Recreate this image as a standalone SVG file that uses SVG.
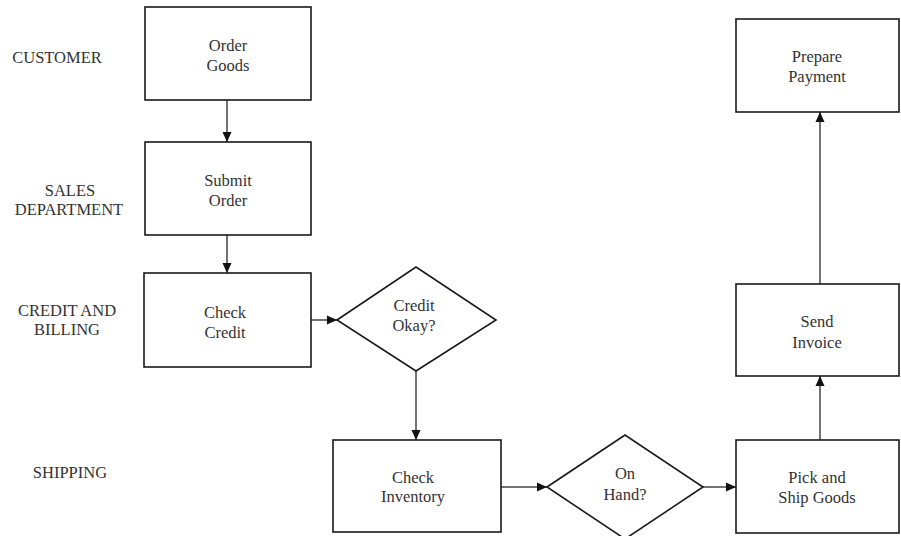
<svg xmlns="http://www.w3.org/2000/svg" width="901" height="536" viewBox="0 0 901 536">
<style>
  .box { fill: #ffffff; stroke: #1a1a1a; stroke-width: 1.6; }
  .txt { font-family: "Liberation Serif", "Times New Roman", serif; font-size: 16.5px; fill: #333333; text-anchor: middle; }
  .lane { font-family: "Liberation Serif", "Times New Roman", serif; font-size: 16.5px; fill: #333333; text-anchor: middle; }
  .conn { fill: none; stroke: #444444; stroke-width: 1.5; marker-end: url(#arrow); }
</style>
<defs>
  <marker id="arrow" markerUnits="userSpaceOnUse" markerWidth="10" markerHeight="10" viewBox="0 0 10 10" refX="10" refY="5" orient="auto">
    <path d="M0,0.5 L10,5 L0,9.5 z" fill="#111111"/>
  </marker>
</defs>
<rect width="901" height="536" fill="#ffffff"/>

<g id="lanes">
  <text class="lane" x="57" y="63">CUSTOMER</text>
  <text class="lane" x="70" y="196">SALES</text>
  <text class="lane" x="69" y="215">DEPARTMENT</text>
  <text class="lane" x="67" y="316">CREDIT AND</text>
  <text class="lane" x="67" y="335">BILLING</text>
  <text class="lane" x="70" y="478">SHIPPING</text>
</g>

<g id="connectors">
  <line class="conn" x1="227" y1="100" x2="227" y2="142"/>
  <line class="conn" x1="227" y1="235" x2="227" y2="273"/>
  <line class="conn" x1="311" y1="320" x2="337" y2="320"/>
  <line class="conn" x1="416" y1="371" x2="416" y2="440"/>
  <line class="conn" x1="501" y1="487" x2="547" y2="487"/>
  <line class="conn" x1="703" y1="487" x2="736" y2="487"/>
  <line class="conn" x1="820" y1="440" x2="820" y2="376"/>
  <line class="conn" x1="820" y1="284" x2="820" y2="112"/>
</g>

<g id="order-goods">
  <rect class="box" x="145" y="7" width="166" height="93"/>
  <text class="txt" x="228" y="51">Order</text>
  <text class="txt" x="228" y="71">Goods</text>
</g>

<g id="submit-order">
  <rect class="box" x="145" y="142" width="166" height="93"/>
  <text class="txt" x="228" y="186">Submit</text>
  <text class="txt" x="228" y="206">Order</text>
</g>

<g id="check-credit">
  <rect class="box" x="144" y="273" width="167" height="94"/>
  <text class="txt" x="225" y="318">Check</text>
  <text class="txt" x="225" y="338">Credit</text>
</g>

<g id="credit-okay">
  <polygon class="box" points="337,320 416,267 496,320 416,371"/>
  <text class="txt" x="414" y="311">Credit</text>
  <text class="txt" x="414" y="331">Okay?</text>
</g>

<g id="check-inventory">
  <rect class="box" x="333" y="440" width="168" height="92"/>
  <text class="txt" x="413" y="483">Check</text>
  <text class="txt" x="413" y="502">Inventory</text>
</g>

<g id="on-hand">
  <polygon class="box" points="547,487 625,435 703,487 625,539"/>
  <text class="txt" x="625" y="479">On</text>
  <text class="txt" x="625" y="500">Hand?</text>
</g>

<g id="pick-ship">
  <rect class="box" x="736" y="440" width="163" height="93"/>
  <text class="txt" x="817" y="483">Pick and</text>
  <text class="txt" x="817" y="503">Ship Goods</text>
</g>

<g id="send-invoice">
  <rect class="box" x="736" y="284" width="163" height="92"/>
  <text class="txt" x="817" y="327">Send</text>
  <text class="txt" x="817" y="348">Invoice</text>
</g>

<g id="prepare-payment">
  <rect class="box" x="736" y="19" width="163" height="93"/>
  <text class="txt" x="817" y="62">Prepare</text>
  <text class="txt" x="817" y="82">Payment</text>
</g>
</svg>
